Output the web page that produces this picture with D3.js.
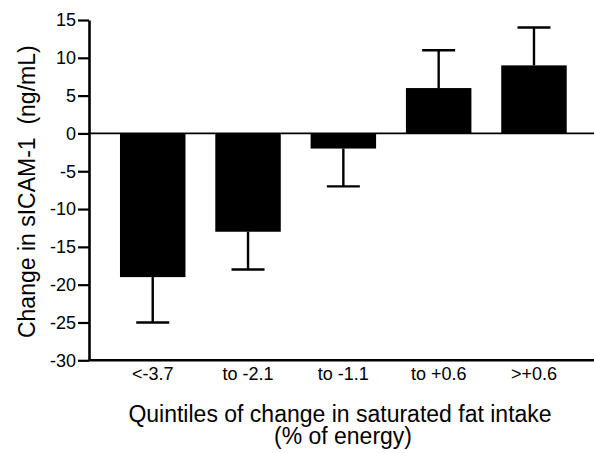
<!DOCTYPE html>
<html>
<head>
<meta charset="utf-8">
<script src="https://cdn.jsdelivr.net/npm/d3@7"></script>
<style>
  html, body { margin: 0; padding: 0; background: #fff; }
  svg { display: block; font-family: "Liberation Sans", Arial, Helvetica, sans-serif; }
</style>
</head>
<body>
<div id="chart"></div>
<script>
// quintile labels and the mean change with its (one-sided) error
const categories = ['<-3.7', 'to -2.1', 'to -1.1', 'to +0.6', '>+0.6'];
const values = [-19, -13, -2, 6, 9];
const errors = [6, 5, 5, 5, 5];
const yTicks = [-30, -25, -20, -15, -10, -5, 0, 5, 10, 15];

const width = 594, height = 453;
const svg = d3.select('#chart').append('svg')
    .attr('width', width)
    .attr('height', height);

const y = d3.scaleLinear().domain([-30, 15]).range([360.3, 20]);
const x = d3.scaleBand()
    .domain(categories)
    .range([89, 597.7])
    .paddingInner(0.313)
    .paddingOuter(0.325);

// y axis (plain hyphen for negatives, like the original)
const yAxis = svg.append('g')
    .attr('transform', 'translate(89,0)')
    .call(d3.axisLeft(y).tickValues(yTicks).tickFormat(d => String(d))
        .tickSize(11).tickSizeOuter(0).tickPadding(2));
yAxis.select('.domain').attr('stroke', '#000').attr('stroke-width', 2.6);
yAxis.selectAll('.tick line').attr('stroke', '#000').attr('stroke-width', 2.2);
yAxis.selectAll('.tick text')
    .attr('fill', '#000')
    .style('font-size', '18px')
    .style('font-family', '"Liberation Sans", Arial, sans-serif');

// x axis (bottom line, no ticks)
const xAxis = svg.append('g')
    .attr('transform', `translate(0,${y(-30)})`)
    .call(d3.axisBottom(x).tickSize(0).tickPadding(7));
xAxis.select('.domain').remove();
xAxis.append('line')
    .attr('x1', 89).attr('x2', width)
    .attr('stroke', '#000').attr('stroke-width', 2.4);
xAxis.selectAll('.tick text')
    .attr('fill', '#000')
    .attr('dy', '0.71em')
    .style('font-size', '18px')
    .style('font-family', '"Liberation Sans", Arial, sans-serif');

// zero line
svg.append('line')
    .attr('x1', 89).attr('x2', width)
    .attr('y1', y(0)).attr('y2', y(0))
    .attr('stroke', '#000').attr('stroke-width', 1.7);

// bars
svg.selectAll('rect.bar')
    .data(values)
    .join('rect')
    .attr('class', 'bar')
    .attr('x', (d, i) => x(categories[i]))
    .attr('width', x.bandwidth())
    .attr('y', d => y(Math.max(0, d)))
    .attr('height', d => Math.abs(y(d) - y(0)))
    .attr('fill', '#000');

// error bars, pointing away from zero
const err = svg.append('g').attr('stroke', '#000').attr('stroke-width', 2.4);
values.forEach((v, i) => {
    const cx = x(categories[i]) + x.bandwidth() / 2;
    const end = v + Math.sign(v) * errors[i];
    err.append('line')
        .attr('x1', cx).attr('x2', cx)
        .attr('y1', y(v)).attr('y2', y(end));
    err.append('line')
        .attr('x1', cx - 16.5).attr('x2', cx + 16.5)
        .attr('y1', y(end)).attr('y2', y(end));
});

// axis titles
svg.append('text')
    .attr('transform', 'translate(35,191.7) rotate(-90)')
    .attr('text-anchor', 'middle')
    .style('font-size', '23px')
    .style('white-space', 'pre')
    .text('Change in sICAM-1  (ng/mL)');

const xTitle = svg.append('text')
    .attr('text-anchor', 'middle')
    .style('font-size', '23px');
xTitle.append('tspan').attr('x', 340).attr('y', 421.5).text('Quintiles of change in saturated fat intake');
xTitle.append('tspan').attr('x', 343).attr('y', 443.5).text('(% of energy)');
</script>
</body>
</html>
